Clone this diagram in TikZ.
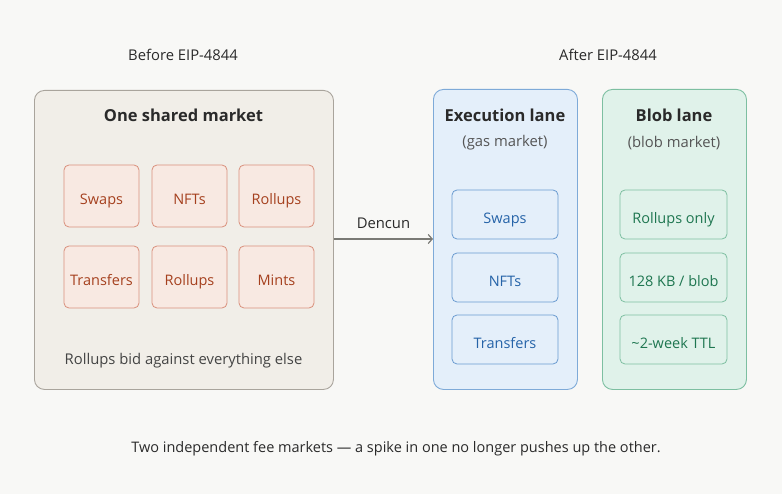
\documentclass[tikz,border=0pt]{standalone}
\usepackage{fontspec}
\setmainfont{Open Sans}
\usetikzlibrary{arrows.meta}
\definecolor{bg}{HTML}{F8F8F6}
\definecolor{leftfill}{HTML}{F1EEE8}
\definecolor{leftdraw}{HTML}{A9A49C}
\definecolor{redfill}{HTML}{F8E9E2}
\definecolor{reddraw}{HTML}{D9907C}
\definecolor{redtext}{HTML}{A5401E}
\definecolor{bluefill}{HTML}{E4EFFA}
\definecolor{bluedraw}{HTML}{7EAAD8}
\definecolor{blueboxdraw}{HTML}{6A9BD0}
\definecolor{bluetext}{HTML}{2563A8}
\definecolor{greenfill}{HTML}{E0F2EA}
\definecolor{greendraw}{HTML}{7DBFA1}
\definecolor{greentext}{HTML}{1E7650}
\definecolor{txt}{HTML}{2A2A2A}
\definecolor{subtxt}{HTML}{555555}
\definecolor{arrowc}{HTML}{7A7A75}
\tikzset{
  panel/.style={rounded corners=10pt, line width=0.9pt},
  inbox/.style={rounded corners=5pt, line width=0.8pt, font=\fontsize{14.5}{16}\selectfont, text height=18.5pt, text depth=0.6pt},
  redbox/.style={inbox, draw=reddraw, fill=redfill, minimum width=75pt, minimum height=62pt, text=redtext},
  bluebox/.style={inbox, draw=blueboxdraw, fill=bluefill, minimum width=106pt, minimum height=49pt, text=bluetext},
  greenbox/.style={inbox, draw=greendraw, fill=greenfill, minimum width=107pt, minimum height=49pt, text=greentext},
  ttl/.style={text=txt, font=\fontsize{16.5}{18}\selectfont\bfseries},
  lbl/.style={text=subtxt, font=\fontsize{14.8}{17}\selectfont},
}
\begin{document}
\begin{tikzpicture}[x=1pt, y=-1pt]
\fill[bg] (0,0) rectangle (782,494);
\useasboundingbox (0,0) rectangle (782,494);
% headers
\node[lbl, text=txt] (before) at (183,54.5) {Before EIP-4844};
\node[lbl, text=txt] (after) at (608,54.5) {After EIP-4844};
% left panel
\node[panel, draw=leftdraw, fill=leftfill, minimum width=299pt, minimum height=299pt, anchor=north west, inner sep=0pt] (shared) at (34,90) {};
\node[ttl] (sharedt) at (183.5,115.5) {One shared market};
\node[redbox] (r1) at (101.5,196) {Swaps};
\node[redbox] (r2) at (189.5,196) {NFTs};
\node[redbox] (r3) at (276.5,196) {Rollups};
\node[redbox] (r4) at (101.5,277) {Transfers};
\node[redbox] (r5) at (189.5,277) {Rollups};
\node[redbox] (r6) at (276.5,277) {Mints};
\node[lbl, text=subtxt!80!black] (bid) at (183.5,360.5) {Rollups bid against everything else};
% execution lane
\node[panel, draw=bluedraw, fill=bluefill, minimum width=144pt, minimum height=300pt, anchor=north west, inner sep=0pt] (exec) at (433,89) {};
\node[ttl] (exect) at (505,115.5) {Execution lane};
\node[lbl] (execs) at (505,143) {(gas market)};
\node[bluebox] (b1) at (505,214.5) {Swaps};
\node[bluebox] (b2) at (505,277.5) {NFTs};
\node[bluebox] (b3) at (505,339.5) {Transfers};
% blob lane
\node[panel, draw=greendraw, fill=greenfill, minimum width=144pt, minimum height=300pt, anchor=north west, inner sep=0pt] (blob) at (602,89) {};
\node[ttl] (blobt) at (674,115.5) {Blob lane};
\node[lbl] (blobs) at (674,143) {(blob market)};
\node[greenbox] (g1) at (673.5,214.5) {Rollups only};
\node[greenbox] (g2) at (673.5,277.5) {128 KB / blob};
\node[greenbox] (g3) at (673.5,339.5) {\char"007E 2-week TTL};
% arrow
\draw[arrowc, line width=1.2pt, -{Straight Barb[length=4pt, width=9pt]}] (shared.east |- 0,239) -- (exec.west |- 0,239) node[midway, above=6.5pt, lbl, text=txt] (dencun) {Dencun};
% caption
\node[lbl, text=txt, font=\fontsize{14.5}{17}\selectfont] (cap) at (396,448.5) {Two independent fee markets — a spike in one no longer pushes up the other.};
\end{tikzpicture}
\end{document}
